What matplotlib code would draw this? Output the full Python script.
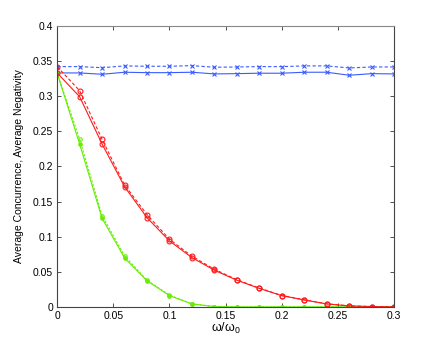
import numpy as np
import matplotlib
matplotlib.use("Agg")
import matplotlib.pyplot as plt

x = [0, 0.02, 0.04, 0.06, 0.08, 0.10, 0.12, 0.14, 0.16, 0.18, 0.20, 0.22, 0.24, 0.26, 0.28, 0.30]

blue_dashed = [0.3421, 0.3421, 0.3406, 0.3431, 0.3426, 0.3426, 0.3435, 0.3412,
               0.3416, 0.3421, 0.3421, 0.3431, 0.3431, 0.3402, 0.3416, 0.3416]
blue_solid = [0.3331, 0.3331, 0.3312, 0.3341, 0.3335, 0.3335, 0.3341, 0.3317,
              0.3321, 0.3327, 0.3327, 0.3341, 0.3341, 0.3298, 0.3321, 0.3317]

red_dashed = [0.3421, 0.3079, 0.2387, 0.1737, 0.1314, 0.0963, 0.0721, 0.0536,
              0.0386, 0.0268, 0.0162, 0.0101, 0.0044, 0.0015, 0.0005, 0.0]
red_solid = [0.3331, 0.2994, 0.2320, 0.1712, 0.1271, 0.0939, 0.0702, 0.0522,
             0.0380, 0.0263, 0.0160, 0.0099, 0.0042, 0.0014, 0.0005, 0.0]

green_dashed = [0.3331, 0.2390, 0.1300, 0.0726, 0.0380, 0.0167, 0.0044, 0.0005,
                0.0, 0.0, 0.0, 0.0, 0.0, 0.0, 0.0, 0.0]
green_solid = [0.3331, 0.2320, 0.1262, 0.0697, 0.0372, 0.0161, 0.0042, 0.0005,
               0.0, 0.0, 0.0, 0.0, 0.0, 0.0, 0.0, 0.0]

xticks = [0, 0.05, 0.1, 0.15, 0.2, 0.25, 0.3]
xticklabels = ["0", "0.05", "0.1", "0.15", "0.2", "0.25", "0.3"]
yticks = [0, 0.05, 0.1, 0.15, 0.2, 0.25, 0.3, 0.35, 0.4]
yticklabels = ["0", "0.05", "0.1", "0.15", "0.2", "0.25", "0.3", "0.35", "0.4"]

plt.rcParams['font.family'] = ['Liberation Sans', 'DejaVu Sans']
plt.rcParams['mathtext.default'] = 'regular'

fig = plt.figure(figsize=(4.36, 3.46), dpi=100)
ax = fig.add_axes([0.131, 0.113, 0.773, 0.812])

blue = '#3a5cff'
red = '#ff1a1a'
green = '#66ee00'

ax.plot(x, blue_solid, '-', color=blue, lw=0.8, marker='x', ms=2.5, mew=0.8)
ax.plot(x, blue_dashed, '--', color=blue, lw=0.8, marker='x', ms=2.5, mew=0.8, dashes=(3, 2))
ax.plot(x, green_solid, '-', color=green, lw=0.8, marker='o', ms=2.5, mfc=green, mew=0.8)
ax.plot(x, green_dashed, '--', color=green, lw=0.8, marker='o', ms=2.5, mfc='none', mew=0.8, dashes=(2, 1.5))
ax.plot(x, red_solid, '-', color=red, lw=0.8, marker='o', ms=3.5, mfc='none', mew=0.8)
ax.plot(x, red_dashed, '--', color=red, lw=0.8, marker='o', ms=3.5, mfc='none', mew=0.8, dashes=(3, 2))

ax.set_xlim(0, 0.3)
ax.set_ylim(0, 0.4)
ax.set_xticks(xticks)
ax.set_xticklabels(xticklabels)
ax.set_yticks(yticks)
ax.set_yticklabels(yticklabels)
ax.tick_params(direction='in', length=3, width=0.6, labelsize=7.5, top=True, right=True,
               colors='#333333', labelcolor='black', pad=3)
for s in ax.spines.values():
    s.set_linewidth(0.8)
    s.set_color('#444444')
ax.spines['top'].set_color('#888888')

ax.set_xlabel('ω/ω$_0$', fontsize=9, labelpad=0)
ax.set_ylabel('Average Concurrence, Average Negativity', fontsize=7.5, labelpad=6)

fig.savefig('out.png', dpi=100)
